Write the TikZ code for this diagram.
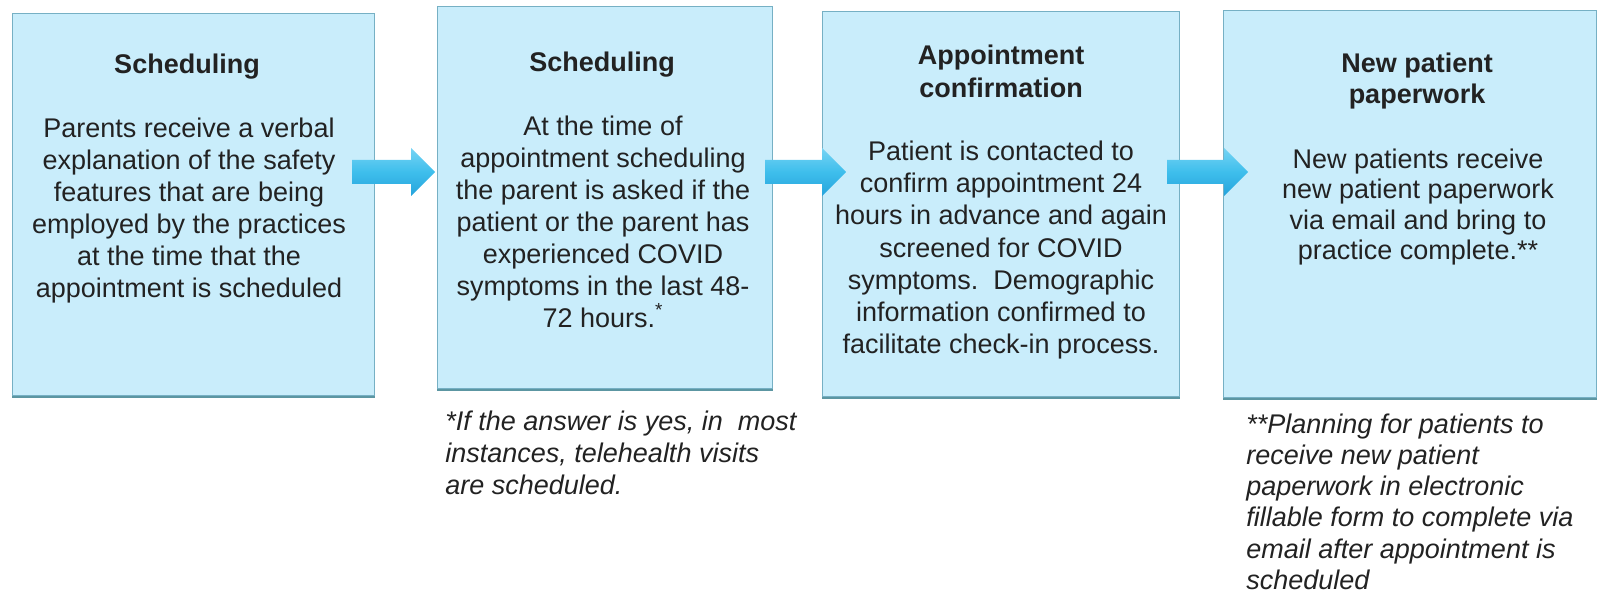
\documentclass[tikz,border=0pt]{standalone}
\usepackage{fontspec}
\setmainfont{Liberation Sans}
\usetikzlibrary{calc}

\definecolor{boxfill}{RGB}{201,237,251}
\definecolor{boxline}{RGB}{118,176,196}
\definecolor{boxshadow}{RGB}{92,150,162}
\definecolor{inktext}{RGB}{34,34,34}
\definecolor{arrowtop}{RGB}{118,212,244}
\definecolor{arrowmid}{RGB}{62,190,236}
\definecolor{arrowbot}{RGB}{38,164,220}

\tikzset{
  stepbox/.style={draw=boxline, fill=boxfill, line width=0.6pt},
  boxtitle/.style={inner sep=0pt, anchor=north, align=center, text=inktext,
    font=\fontsize{13.5}{#1}\selectfont\bfseries},
  boxtitle/.default=16,
  boxbody/.style={inner sep=0pt, anchor=north, align=center, text=inktext,
    font=\fontsize{13.5}{#1}\selectfont},
  boxbody/.default=16,
  footnote/.style={inner sep=0pt, anchor=north west, align=left, text=inktext,
    font=\fontsize{13.5}{#1}\selectfont\itshape},
  footnote/.default=16,
  blockarrow/.style={top color=arrowtop, bottom color=arrowbot, middle color=arrowmid}
}

% straight block arrow from coordinate #1 to tip coordinate #2
\newcommand\flowarrow[2]{%
  \path[blockarrow]
    ($(#1)+(0,-12)$) -- ($(#2)+(-24,-12)$) -- ($(#2)+(-24,-24)$) -- (#2)
    -- ($(#2)+(-24,24)$) -- ($(#2)+(-24,12)$) -- ($(#1)+(0,12)$) -- cycle;}

\begin{document}
\begin{tikzpicture}[x=0.5pt, y=-0.5pt]
\useasboundingbox (0,0) rectangle (1599,597);

% the four process boxes
\node[stepbox, minimum width=181pt, minimum height=191pt, anchor=north west] (b1) at (12,13) {};
\node[stepbox, minimum width=167.5pt, minimum height=191pt, anchor=north west] (b2) at (437,6) {};
\node[stepbox, minimum width=178.5pt, minimum height=192.5pt, anchor=north west] (b3) at (822,11) {};
\node[stepbox, minimum width=186.5pt, minimum height=193.5pt, anchor=north west] (b4) at (1223,10) {};

% darker lower edges
\foreach \b in {b1,b2,b3,b4}
  \draw[boxshadow, line width=1.3pt] ($(\b.south west)+(0,1)$) -- ($(\b.south east)+(0,1)$);

% arrows between the boxes
\coordinate (a1s) at (352,172);
\coordinate (a1e) at (435,172);
\coordinate (a2s) at (765,172);
\coordinate (a2e) at (846,172);
\coordinate (a3s) at (1167,172);
\coordinate (a3e) at (1248,172);
\flowarrow{a1s}{a1e}
\flowarrow{a2s}{a2e}
\flowarrow{a3s}{a3e}

% box 1
\node[boxtitle] (t1) at (187,50.6) {\strut Scheduling};
\node[boxbody] (d1) at (189,114.6) {\strut Parents receive a verbal\\explanation of the safety\\features that are being\\employed by the practices\\at the time that the\\appointment is scheduled};

% box 2
\node[boxtitle] (t2) at (602,48.6) {\strut Scheduling};
\node[boxbody] (d2) at (603,112.6) {\strut At the time of\\appointment scheduling\\the parent is asked if the\\patient or the parent has\\experienced COVID\\symptoms in the last 48-\\72 hours.\textsuperscript{*}};

% box 3
\node[boxtitle=16.5] (t3) at (1001,40.9) {\strut Appointment\\confirmation};
\node[boxbody=16.1] (d3) at (1001,137.5) {\strut Patient is contacted to\\confirm appointment 24\\hours in advance and again\\screened for COVID\\symptoms.\ \ Demographic\\information confirmed to\\facilitate check-in process.};

% box 4
\node[boxtitle=15.5] (t4) at (1417,50.3) {\strut New patient\\paperwork};
\node[boxbody=15.25] (d4) at (1418,146.6) {\strut New patients receive\\new patient paperwork\\via email and bring to\\practice complete.**};

% notes under the boxes
\node[footnote] (n2) at (445,407.6) {\strut *If the answer is yes, in\ \ most\\instances, telehealth visits\\are scheduled.};
\node[footnote=15.6] (n4) at (1246,411) {\strut **Planning for patients to\\receive new patient\\paperwork in electronic\\fillable form to complete via\\email after appointment is\\scheduled};
\end{tikzpicture}
\end{document}
